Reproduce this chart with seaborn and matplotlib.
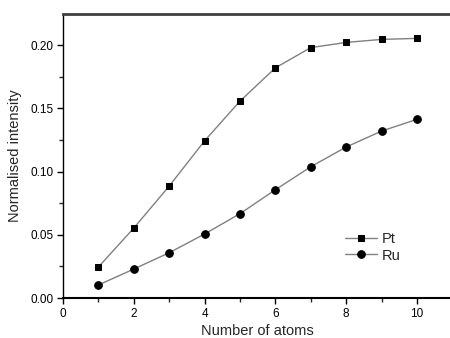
import numpy as np
import pandas as pd
import matplotlib
matplotlib.use('Agg')
import matplotlib.pyplot as plt
from matplotlib.ticker import MultipleLocator
import seaborn as sns

# values
atoms = [1, 2, 3, 4, 5, 6, 7, 8, 9, 10]
pt = [0.0245, 0.0553, 0.0885, 0.1243, 0.1557, 0.1820, 0.1980, 0.2021, 0.2045, 0.2053]
ru = [0.0103, 0.0229, 0.0358, 0.0506, 0.0667, 0.0856, 0.1038, 0.1194, 0.1320, 0.1413]

sns.set_style('ticks')
plt.rcParams['font.family'] = ['Liberation Sans', 'DejaVu Sans']

fig = plt.figure(figsize=(4.5, 3.38), dpi=100)
ax = fig.add_axes([0.14, 0.1183, 0.8653, 0.840])

sns.lineplot(x=atoms, y=pt, ax=ax, color='#808080', lw=1, marker='s', markersize=5,
             markerfacecolor='black', markeredgecolor='black', label='Pt')
sns.lineplot(x=atoms, y=ru, ax=ax, color='#808080', lw=1, marker='o', markersize=5.5,
             markerfacecolor='black', markeredgecolor='black', label='Ru')

ax.set_xlim(0, 11)
ax.set_ylim(0, 0.2245)
ax.xaxis.set_major_locator(MultipleLocator(2))
ax.xaxis.set_minor_locator(MultipleLocator(1))
ax.yaxis.set_major_locator(MultipleLocator(0.05))
ax.yaxis.set_minor_locator(MultipleLocator(0.025))
ax.yaxis.set_major_formatter(plt.FuncFormatter(lambda v, p: f'{v:.2f}'))
ax.tick_params(which='major', direction='out', length=4, width=1, labelsize=8.5,
               colors='black', pad=3)
ax.tick_params(which='minor', direction='out', length=3, width=1)

ax.spines['right'].set_visible(False)
ax.spines['top'].set_linewidth(2)
ax.spines['top'].set_color('#404040')
ax.spines['bottom'].set_linewidth(1.5)
ax.spines['bottom'].set_color('black')
ax.spines['left'].set_linewidth(1)
ax.spines['left'].set_color('black')

ax.set_xlabel('Number of atoms', fontsize=10.5, labelpad=3)
ax.set_ylabel('Normalised intensity', fontsize=10.5, labelpad=6)

ax.legend(loc='upper left', bbox_to_anchor=(0.69, 0.28), frameon=False, fontsize=10.5,
          handlelength=2.2, handletextpad=0.3, labelspacing=0.2)

fig.savefig('out.png', dpi=100)
